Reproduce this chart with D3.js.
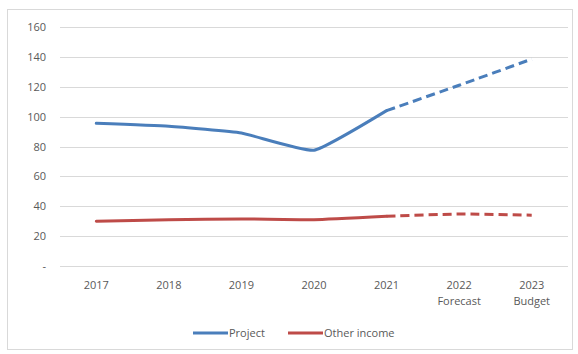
<!DOCTYPE html>
<html>
<head>
<meta charset="utf-8">
<script src="https://cdn.jsdelivr.net/npm/d3@7"></script>
<style>
  body { margin: 0; background: #fff; }
  text { font-family: "Open Sans", sans-serif; fill: #595959; }
</style>
</head>
<body>
<svg width="578" height="354"></svg>
<script>
const years = ["2017", "2018", "2019", "2020", "2021", "2022", "2023"];
const subLabels = ["", "", "", "", "", "Forecast", "Budget"];
const project = [95.5, 93.5, 89, 77.5, 104, 121, 138.5];
const otherIncome = [30, 31, 31.5, 31, 33.3, 34.8, 34];
const yTicks = [0, 20, 40, 60, 80, 100, 120, 140, 160];
const actualCount = 5; // 2017-2021 actual, rest dashed

const svg = d3.select("svg");
const width = +svg.attr("width");
const height = +svg.attr("height");
const margin = { top: 27, right: 10, bottom: 88, left: 60 };

svg.append("rect")
  .attr("x", 7.5).attr("y", 9.5)
  .attr("width", width - 13).attr("height", height - 14)
  .attr("fill", "#fff").attr("stroke", "#d9d9d9");

const x = d3.scaleBand()
  .domain(years)
  .range([margin.left, width - margin.right])
  .paddingInner(0).paddingOuter(0);

const y = d3.scaleLinear()
  .domain([0, 160])
  .range([height - margin.bottom, margin.top]);

// gridlines
svg.append("g")
  .selectAll("line")
  .data(yTicks)
  .join("line")
  .attr("x1", margin.left)
  .attr("x2", width - margin.right)
  .attr("y1", d => Math.round(y(d)) + 0.5)
  .attr("y2", d => Math.round(y(d)) + 0.5)
  .attr("stroke", "#d9d9d9")
  .attr("stroke-width", 1);

// y labels
svg.append("g")
  .selectAll("text")
  .data(yTicks)
  .join("text")
  .attr("x", 46)
  .attr("y", d => y(d) + 4)
  .attr("text-anchor", "end")
  .attr("font-size", 11)
  .text(d => d === 0 ? "-" : d);

// x labels
const xl = svg.append("g")
  .selectAll("text")
  .data(years)
  .join("text")
  .attr("x", d => x(d) + x.bandwidth() / 2)
  .attr("y", height - margin.bottom + 23)
  .attr("text-anchor", "middle")
  .attr("font-size", 11);
xl.append("tspan").text(d => d);
xl.append("tspan")
  .attr("x", d => x(d) + x.bandwidth() / 2)
  .attr("dy", 16)
  .text((d, i) => subLabels[i]);

const cx = (d, i) => x(years[i]) + x.bandwidth() / 2;

function drawSeries(values, color) {
  const pts = values.map((v, i) => [cx(v, i), y(v)]);
  const smooth = d3.line().curve(d3.curveCardinal.tension(0.6));
  svg.append("path")
    .attr("d", smooth(pts.slice(0, actualCount)))
    .attr("fill", "none")
    .attr("stroke", color)
    .attr("stroke-width", 3)
    .attr("stroke-linecap", "round");
  svg.append("path")
    .attr("d", smooth(pts.slice(actualCount - 1)))
    .attr("fill", "none")
    .attr("stroke", color)
    .attr("stroke-width", 3)
    .attr("stroke-dasharray", "9,5");
}

drawSeries(project, "#4a7ebb");
drawSeries(otherIncome, "#be4b48");

// legend
const legend = [
  { name: "Project", color: "#4a7ebb", x: 193 },
  { name: "Other income", color: "#be4b48", x: 288 }
];
const lg = svg.append("g")
  .selectAll("g")
  .data(legend)
  .join("g")
  .attr("transform", d => `translate(${d.x},333)`);
lg.append("line")
  .attr("x1", 0).attr("x2", 35)
  .attr("stroke", d => d.color)
  .attr("stroke-width", 3);
lg.append("text")
  .attr("x", 36).attr("y", 4)
  .attr("font-size", 11)
  .text(d => d.name);
</script>
</body>
</html>
